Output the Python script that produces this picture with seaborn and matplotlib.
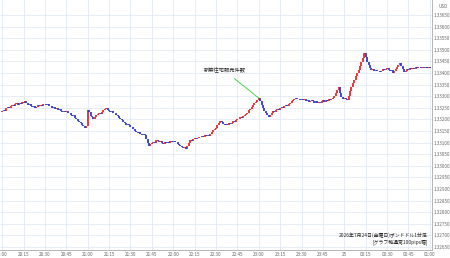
import matplotlib
matplotlib.use('Agg')
import matplotlib.pyplot as plt
import seaborn as sns
import numpy as np
import pandas as pd

# GBP/USD 1-minute closes, in pips above 1.32000 (one value per minute from 20:00)
close_pips = [
    123.5, 124.2, 123.8, 124.9, 125.3, 124.8, 125.6, 126.2, 125.7, 126.5,
    126.9, 126.3, 127.0, 126.6, 127.4, 127.1, 127.9, 127.2, 126.4, 126.8,
    125.8, 125.2, 125.9, 124.9, 125.5, 126.1, 125.7, 126.4, 126.0, 126.8,
    126.6, 126.1, 126.5, 125.6, 125.9, 124.9, 125.3, 124.6, 125.0, 124.2,
    124.6, 123.8, 123.2, 123.7, 123.0, 123.5, 122.6, 122.8, 122.1, 121.4,
    121.8, 120.6, 120.0, 119.4, 118.9, 118.3, 117.5, 117.0, 116.3, 117.2,
    124.1, 123.0, 121.6, 121.0, 120.2, 120.9, 121.8, 122.2, 122.9, 122.5,
    123.2, 123.9, 124.4, 124.9, 124.2, 123.8, 123.1, 123.6, 122.9, 122.8,
    122.0, 121.4, 120.8, 120.2, 119.6, 118.9, 118.4, 117.8, 118.2, 117.4,
    116.9, 116.7, 115.9, 115.2, 114.6, 114.1, 114.5, 113.9, 113.4, 113.8,
    113.3, 111.6, 109.9, 108.5, 109.2, 109.9, 110.4, 110.0, 111.1, 110.6,
    110.2, 110.7, 110.0, 109.5, 110.1, 109.8, 110.4, 109.9, 110.6, 110.1,
    110.8, 110.3, 110.3, 109.6, 109.0, 108.7, 108.1, 107.7, 107.9, 107.2,
    108.6, 109.9, 111.1, 110.7, 111.5, 111.9, 111.4, 112.0, 112.6, 112.4,
    112.9, 112.5, 113.1, 112.8, 113.4, 113.0, 113.7, 114.5, 115.3, 115.8,
    116.3, 117.4, 118.5, 119.3, 118.8, 118.2, 117.6, 118.1, 117.7, 118.4,
    118.0, 118.6, 119.3, 119.0, 119.8, 120.4, 120.1, 121.0, 120.6, 121.5,
    121.9, 122.4, 122.8, 123.9, 124.6, 125.4, 126.2, 126.9, 127.6, 128.3,
    129.2, 127.8, 126.4, 125.0, 123.6, 122.8, 121.9, 121.0, 122.0, 122.7,
    123.6, 123.1, 124.0, 124.5, 124.1, 124.9, 125.4, 125.1, 125.9, 126.3,
    126.0, 126.7, 127.1, 127.8, 128.2, 128.9, 129.2, 128.6, 129.0, 128.4,
    128.9, 128.3, 128.7, 128.0, 128.5, 127.7, 127.9, 128.4, 127.8, 127.3,
    127.8, 127.2, 127.6, 127.1, 127.9, 128.3, 127.7, 128.5, 128.1, 128.8,
    128.4, 129.0, 129.2, 130.1, 131.3, 132.6, 134.0, 131.5, 129.6, 128.8,
    129.3, 128.7, 128.4, 130.2, 132.1, 134.0, 135.7, 137.2, 138.6, 140.0,
    141.5, 143.0, 144.6, 146.3, 148.6, 146.8, 144.7, 143.6, 142.3, 141.3,
    141.8, 140.9, 141.5, 140.8, 141.1, 140.4, 141.0, 141.6, 141.2, 141.9,
    142.2, 141.4, 140.7, 141.2, 140.0, 140.8, 141.6, 142.5, 143.4, 144.3,
    143.1, 141.6, 140.4, 141.0, 141.7, 141.3, 142.0, 141.6, 142.2, 141.8,
    142.4, 142.0, 142.7, 142.6, 142.1, 142.8, 142.3, 142.7, 142.0, 142.5,
    142.2,
]
first_open_pips = 123.0

x_tick_labels = ['20:00', '20:15', '20:30', '20:45', '21:00', '21:15', '21:30', '21:45',
                 '22:00', '22:15', '22:30', '22:45', '23:00', '23:15', '23:30', '23:45',
                 '25', '00:15', '00:30', '00:45', '01:00']
y_ticks = [1.32650 + 0.0005 * i for i in range(21)]

event_label = '新築住宅販売件数'
event_minute = 180
title_lines = ['2026年7月24日(金曜日)ポンドドル1分足', '[グラフ軸通常100pips幅]']

sns.set_style('white')
plt.rcParams['font.family'] = ['Noto Sans CJK JP', 'DejaVu Sans']

closes = 1.32 + np.array(close_pips) / 10000
opens = np.concatenate([[1.32 + first_open_pips / 10000], closes[:-1]])
df = pd.DataFrame({'minute': np.arange(len(closes)), 'open': opens, 'close': closes})
df['up'] = df['close'] >= df['open']

fig = plt.figure(figsize=(4.5, 2.58), dpi=100)
ax = fig.add_axes([0.0, 0.031, 0.96, 0.969])

grid_c = '#e3eaf2'
ax.set_xticks(np.arange(0, 301, 15))
ax.set_yticks(y_ticks)
ax.grid(True, color=grid_c, lw=0.6)
ax.set_axisbelow(True)

up = df[df['up']]
dn = df[~df['up']]
ax.vlines(up['minute'], up['open'], up['close'], color='#e8262b', lw=1.3)
ax.vlines(dn['minute'], dn['open'], dn['close'], color='#2b3ccf', lw=1.3)

ax.set_xlim(-1.5, 301.5)
ax.set_ylim(1.32 + 63.7 / 10000, 1.32 + 171.5 / 10000)

ax.set_xticklabels(x_tick_labels, fontsize=3.3, color='#666666')
ax.set_yticklabels([f'{v:.5f}' for v in y_ticks], fontsize=3.3, color='#666666')
ax.yaxis.tick_right()
ax.tick_params(axis='both', length=0, pad=1.5)
for s in ['top', 'left']:
    ax.spines[s].set_visible(False)
for s in ['right', 'bottom']:
    ax.spines[s].set_color('#aaaaaa')
    ax.spines[s].set_linewidth(0.6)

fig.text(0.975, 0.975, 'USD', fontsize=3.3, color='#666666', ha='left', va='center')

# event annotation
ax.annotate(event_label, xy=(event_minute, closes[event_minute]), xytext=(156, 1.32 + 141.0 / 10000),
            fontsize=3.8, ha='center', va='center', color='#222222',
            arrowprops=dict(arrowstyle='-', color='#33cc33', lw=0.6, shrinkA=2, shrinkB=0))

ax.text(0.99, 0.06, title_lines[0], transform=ax.transAxes, fontsize=3.5, ha='right', va='center', color='#222222')
ax.text(0.99, 0.03, title_lines[1], transform=ax.transAxes, fontsize=3.5, ha='right', va='center', color='#222222')

fig.savefig('out.png', dpi=100)
